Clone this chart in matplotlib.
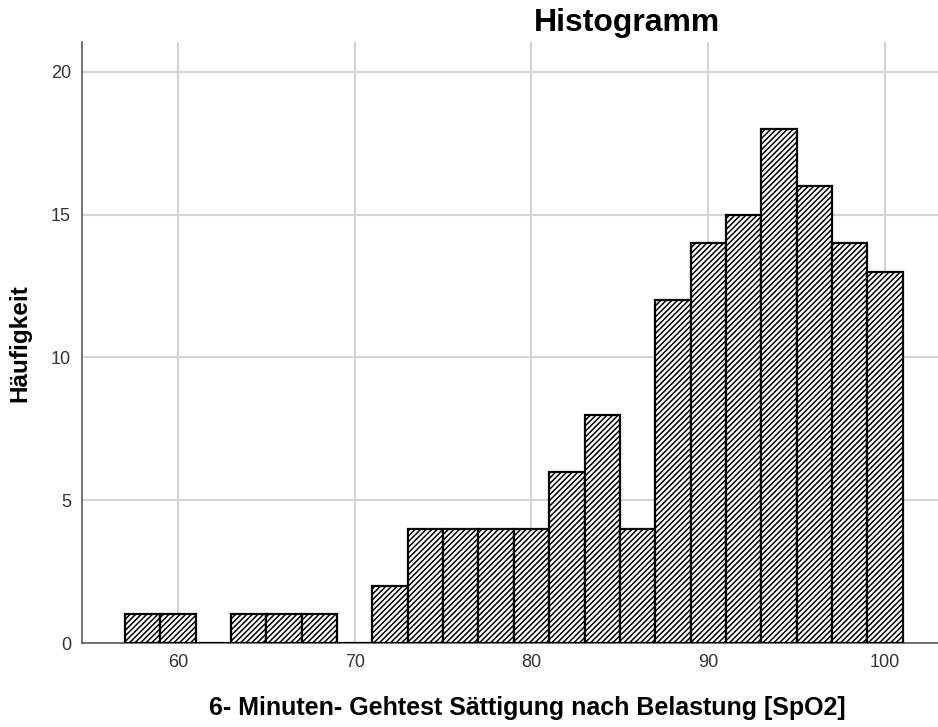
import numpy as np
from matplotlib import pyplot as plt

# class intervals (width 2) and frequencies of SpO2 after the walking test
bin_edges = np.arange(57, 103, 2)
counts = [1, 1, 0, 1, 1, 1, 0, 2, 4, 4, 4, 4, 6, 8, 4, 12, 14, 15, 18, 16, 14, 13]
x_ticks = [60, 70, 80, 90, 100]
y_ticks = [0, 5, 10, 15, 20]

plt.rcParams['font.family'] = ['Liberation Sans', 'DejaVu Sans']
plt.rcParams['hatch.linewidth'] = 1.1

fig = plt.figure(figsize=(9.38, 7.27), dpi=100)
ax = fig.add_axes([82 / 938, 84 / 727, 1 - 82 / 938, (643 - 42) / 727])

ax.bar(bin_edges[:-1], counts, width=2, align='edge', color='white',
       edgecolor='black', linewidth=1.6, hatch='//////', zorder=3)

ax.set_xlim(54.57, 103.0)
ax.set_ylim(0, 21.05)
ax.set_xticks(x_ticks)
ax.set_yticks(y_ticks)
ax.tick_params(length=0, labelsize=13, labelcolor='#333333', pad=8)
ax.grid(color='#d4d4d4', linewidth=1.5, zorder=0)
ax.set_axisbelow(True)

for side in ['top', 'right']:
    ax.spines[side].set_visible(False)
for side in ['left', 'bottom']:
    ax.spines[side].set_color('#5a5a5a')
    ax.spines[side].set_linewidth(1.2)

fig.text(627 / 938, 1 - 23 / 727, 'Histogramm', ha='center', va='center',
         fontsize=23, fontweight='bold')
fig.text(527 / 938, 1 - 708 / 727, '6- Minuten- Gehtest Sättigung nach Belastung [SpO2]',
         ha='center', va='center', fontsize=18, fontweight='bold')
fig.text(20 / 938, 1 - 343 / 727, 'Häufigkeit', ha='center', va='center',
         rotation=90, fontsize=17.5, fontweight='bold')

plt.savefig('out.png', dpi=100)
